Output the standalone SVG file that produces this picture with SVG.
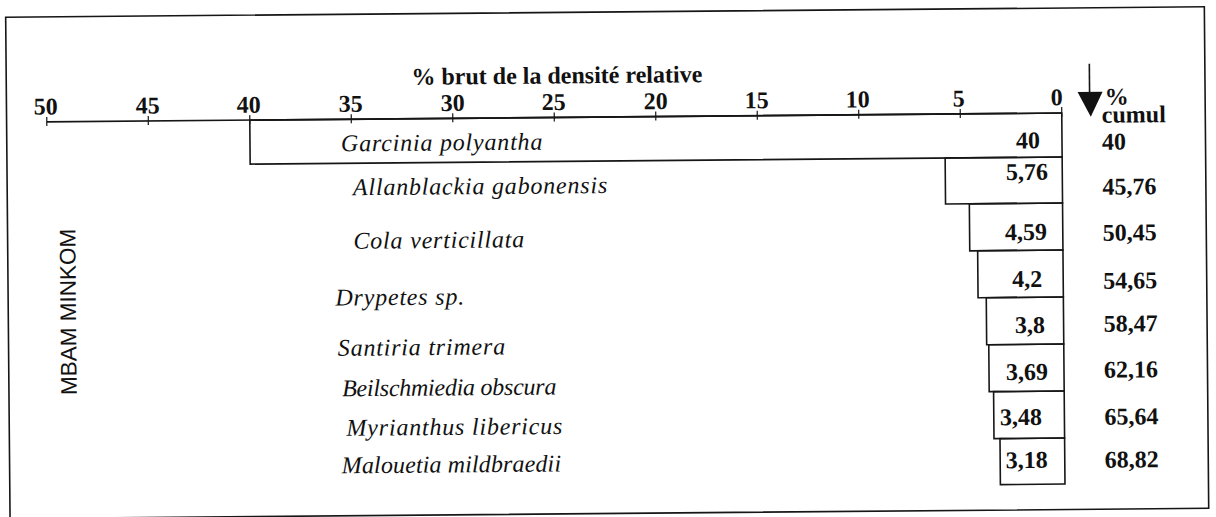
<svg xmlns="http://www.w3.org/2000/svg" width="1216" height="517" viewBox="0 0 1216 517">
<style>
.ln{stroke:#161616;stroke-width:1.6;fill:none}
.tk{stroke:#161616;stroke-width:1.2}
.ax{font-family:"Liberation Serif","Times New Roman",serif;font-weight:bold;font-size:24px;fill:#111;text-anchor:middle}
.ttl{font-family:"Liberation Serif","Times New Roman",serif;font-weight:bold;font-size:24px;fill:#111}
.sp{font-family:"Liberation Serif","Times New Roman",serif;font-style:italic;font-size:24px;letter-spacing:0.8px;fill:#111}
.val{font-family:"Liberation Serif","Times New Roman",serif;font-weight:bold;font-size:24px;fill:#111;text-anchor:end}
.cum{font-family:"Liberation Serif","Times New Roman",serif;font-weight:bold;font-size:24px;fill:#111}
.site{font-family:"Liberation Sans",Arial,sans-serif;font-size:22.5px;fill:#111}
</style>
<rect x="0" y="0" width="1216" height="517" fill="#fff"/>
<g transform="rotate(-0.5 608 258)">
<rect id="frame" class="ln" x="7.8" y="12" width="1198.7" height="501.5" stroke-width="1.8"/>
<text id="title" class="ttl" x="413" y="83">% brut de la densité relative</text>
<g id="axis">
<line class="ln" x1="48" y1="117" x2="1063" y2="117"/>
<g class="tk">
<line x1="48" y1="112" x2="48" y2="121"/>
<line x1="149.5" y1="112" x2="149.5" y2="121"/>
<line x1="251" y1="112" x2="251" y2="121"/>
<line x1="352.5" y1="112" x2="352.5" y2="121"/>
<line x1="454" y1="112" x2="454" y2="121"/>
<line x1="555.5" y1="112" x2="555.5" y2="121"/>
<line x1="657" y1="112" x2="657" y2="121"/>
<line x1="758.5" y1="112" x2="758.5" y2="121"/>
<line x1="860" y1="112" x2="860" y2="121"/>
<line x1="961.5" y1="112" x2="961.5" y2="121"/>
<line x1="1063" y1="111" x2="1063" y2="121"/>
</g>
<text class="ax" x="47" y="109.5">50</text>
<text class="ax" x="149" y="109.5">45</text>
<text class="ax" x="250" y="109.5">40</text>
<text class="ax" x="352" y="109.5">35</text>
<text class="ax" x="454" y="109.5">30</text>
<text class="ax" x="555" y="109.5">25</text>
<text class="ax" x="657" y="109.5">20</text>
<text class="ax" x="758" y="109.5">15</text>
<text class="ax" x="859" y="109.5">10</text>
<text class="ax" x="960" y="109.5">5</text>
<text class="ax" x="1058" y="109">0</text>
</g>
<g id="cumul-header">
<line class="ln" x1="1091" y1="68" x2="1091" y2="97"/>
<polygon points="1079,96 1104,96 1092,121" fill="#111"/>
<text class="cum" x="1106" y="109">%</text>
<text class="cum" x="1103" y="127">cumul</text>
</g>
<text id="site" class="site" transform="translate(75.5 390.3) rotate(-90)">MBAM MINKOM</text>
<g id="row1">
<rect class="ln" x="251" y="117" width="812" height="44"/>
<text class="sp" x="342" y="149">Garcinia polyantha</text>
<text class="val" x="1041" y="152">40</text>
<text class="cum" x="1103" y="154">40</text>
</g>
<g id="row2">
<rect class="ln" x="946" y="161" width="117" height="46"/>
<text class="sp" x="353.6" y="193">Allanblackia gabonensis</text>
<text class="val" x="1048.7" y="183.6">5,76</text>
<text class="cum" x="1103" y="199">45,76</text>
</g>
<g id="row3">
<rect class="ln" x="969.8" y="207" width="93.2" height="47"/>
<text class="sp" x="353.6" y="246.5">Cola verticillata</text>
<text class="val" x="1047.2" y="243.6">4,59</text>
<text class="cum" x="1103" y="245">50,45</text>
</g>
<g id="row4">
<rect class="ln" x="977.7" y="254" width="85.3" height="47"/>
<text class="sp" x="335" y="303.2">Drypetes sp.</text>
<text class="val" x="1042" y="290.6">4,2</text>
<text class="cum" x="1103" y="293">54,65</text>
</g>
<g id="row5">
<rect class="ln" x="985.9" y="301" width="77.1" height="47"/>
<text class="sp" x="337" y="353.5">Santiria trimera</text>
<text class="val" x="1044.4" y="336.6">3,8</text>
<text class="cum" x="1103" y="336">58,47</text>
</g>
<g id="row6">
<rect class="ln" x="988" y="348" width="75" height="47"/>
<text class="sp" x="341" y="394" textLength="215">Beilschmiedia obscura</text>
<text class="val" x="1047" y="383.6">3,69</text>
<text class="cum" x="1103" y="382">62,16</text>
</g>
<g id="row7">
<rect class="ln" x="992.4" y="395" width="70.6" height="47"/>
<text class="sp" x="345" y="433.5">Myrianthus libericus</text>
<text class="val" x="1040.5" y="428.6">3,48</text>
<text class="cum" x="1103" y="429">65,64</text>
</g>
<g id="row8">
<rect class="ln" x="998.4" y="442" width="64.6" height="46"/>
<text class="sp" x="340" y="471" textLength="220">Malouetia mildbraedii</text>
<text class="val" x="1046" y="471.6">3,18</text>
<text class="cum" x="1103" y="472">68,82</text>
</g>
</g>
</svg>
